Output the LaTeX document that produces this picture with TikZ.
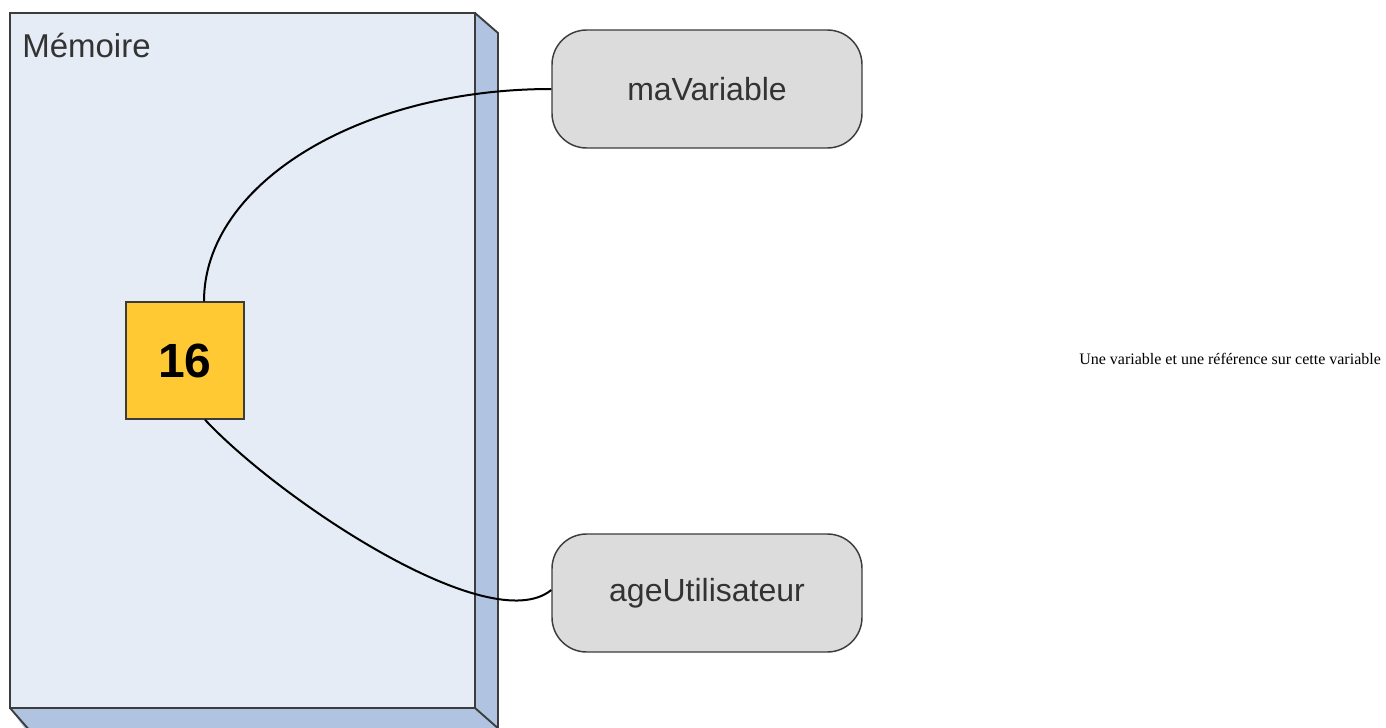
\documentclass[tikz,border=0pt]{standalone}
\usepackage{fontspec}
\setmainfont{Liberation Serif}
\newfontfamily\arialfont{Liberation Sans}
\usetikzlibrary{calc}
\definecolor{memfront}{HTML}{E5ECF6}
\definecolor{memside}{HTML}{B0C4E2}
\definecolor{edgegray}{HTML}{3C3C3C}
\definecolor{valgold}{HTML}{FFC933}
\definecolor{refgray}{HTML}{DCDCDC}
\definecolor{txtgray}{HTML}{333333}
\tikzset{
  memface/.style={draw=edgegray, line width=1.4pt, line join=miter},
  refbox/.style={draw=edgegray, line width=1.1pt, fill=refgray, rounded corners=26pt,
    minimum width=232.5pt, minimum height=88.5pt, inner sep=0pt,
    font=\arialfont\fontsize{24}{28}\selectfont, text=txtgray},
  valbox/.style={draw=edgegray, line width=1.1pt, fill=valgold,
    minimum width=88.5pt, minimum height=87.75pt, inner sep=0pt,
    font=\arialfont\bfseries\fontsize{36}{40}\selectfont, text=black},
  link/.style={draw=black, line width=1.5pt}
}
\begin{document}
\begin{tikzpicture}[x=0.75pt, y=-0.75pt]
\useasboundingbox (0,0) rectangle (1386,728);
\begin{scope}
\clip (0,0) rectangle (1386,728);
% memory block: side and bottom faces
\fill[memside] (475,13) -- (498,33) -- (498,740) -- (475,708) -- cycle;
\fill[memside] (10,708) -- (475,708) -- (498,728) -- (498,740) -- (33,740) -- (10,708) -- cycle;
\draw[memface] (475,13) -- (498,33) -- (498,740);
\draw[memface] (10,708) -- (38,740);
\draw[memface] (475,708) -- (500,730);
% front face
\draw[memface, fill=memfront] (10,13) rectangle (475,708);
\end{scope}
\node[anchor=base west, font=\arialfont\fontsize{24.75}{28}\selectfont, text=txtgray, inner sep=0pt] (memlabel) at (22,57) {Mémoire};

\node[valbox] (val) at (185,360.5) {16};
\node[refbox] (ref1) at (707,89) {maVariable};
\node[refbox] (ref2) at (707,593) {ageUtilisateur};

\draw[link] ($(val.north)+(19,0)$) .. controls (204,184) and (359,89) .. (ref1.west);
\draw[link] ($(val.south)+(20,0)$) .. controls (280,500) and (490,640) .. ($(ref2.west)+(0,-3)$);

\node[anchor=base west, inner sep=0pt, font=\fontsize{12}{14}\selectfont] (caption) at (1079,364) {Une variable et une référence sur cette variable};
\end{tikzpicture}
\end{document}
